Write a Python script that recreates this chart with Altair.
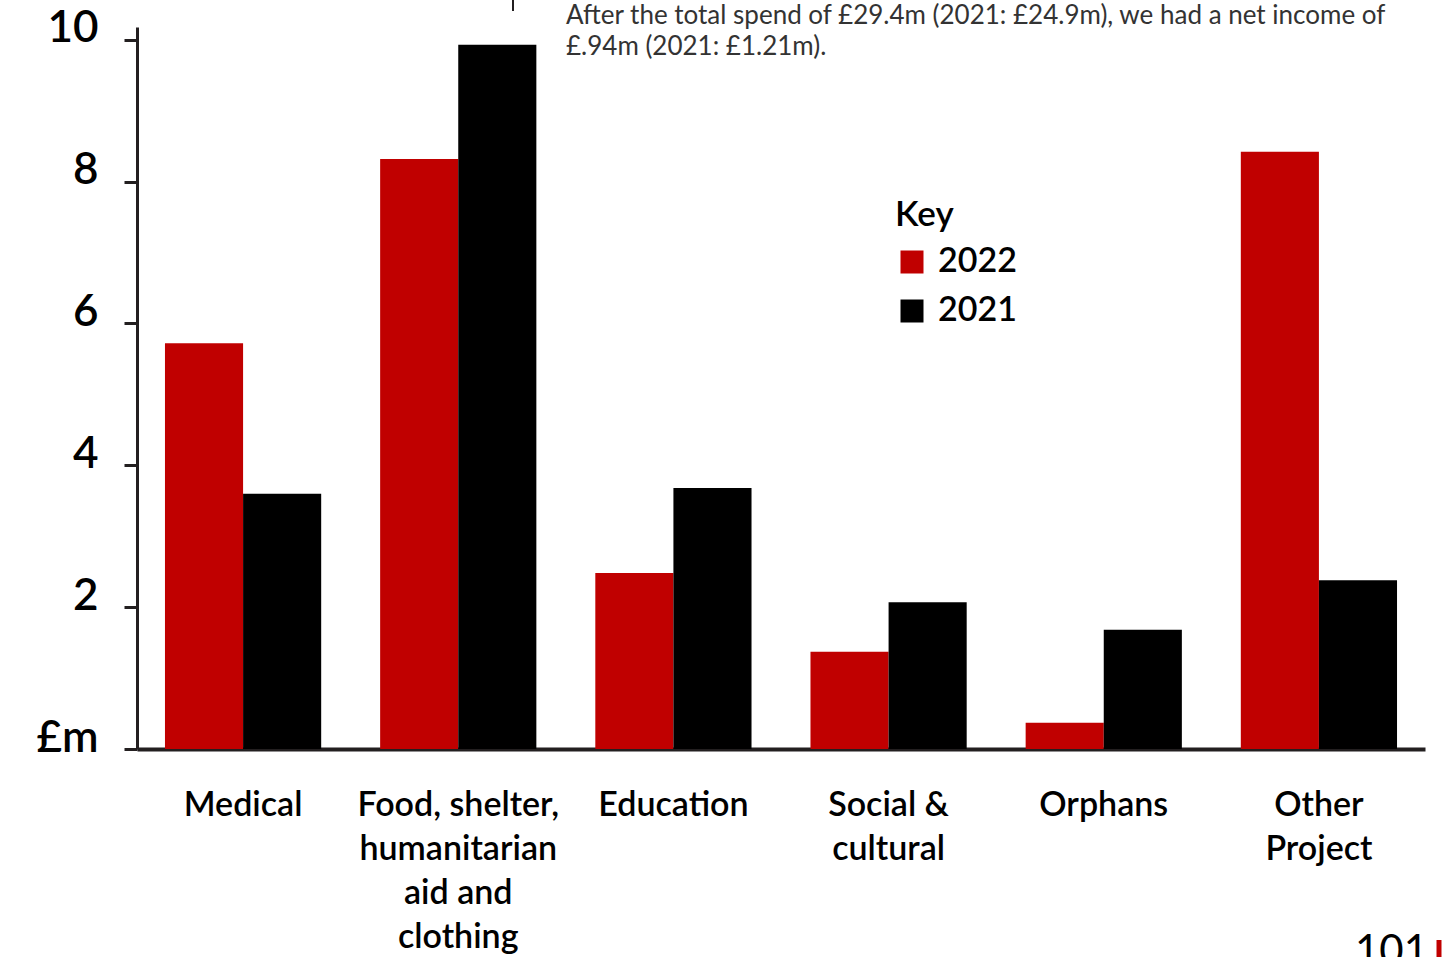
import altair as alt
import pandas as pd

categories = ["Medical", "Food, shelter, humanitarian aid and clothing", "Education",
              "Social & cultural", "Orphans", "Other Project"]
label_lines = ["Medical", "Food, shelter,|humanitarian|aid and|clothing", "Education",
               "Social &|cultural", "Orphans", "Other|Project"]
values_2022 = [5.72, 8.32, 2.48, 1.37, 0.37, 8.42]
values_2021 = [3.60, 9.93, 3.68, 2.07, 1.68, 2.38]
years = ["2022", "2021"]
y_ticks = [0, 2, 4, 6, 8, 10]
note_lines = ["After the total spend of £29.4m (2021: £24.9m), we had a net income of",
              "£.94m (2021: £1.21m)."]

rows = []
for c, a, b in zip(categories, values_2022, values_2021):
    rows.append({"category": c, "year": "2022", "value": a})
    rows.append({"category": c, "year": "2021", "value": b})
df = pd.DataFrame(rows)

mapping = "{" + ",".join(f"'{c}':'{l}'" for c, l in zip(categories, label_lines)) + "}"

FONT = "Lato"
AX = "#231f20"

bars = alt.Chart(df).mark_bar().encode(
    x=alt.X("category:N", sort=categories,
            scale=alt.Scale(paddingInner=0.274, paddingOuter=0.13),
            axis=alt.Axis(title=None, labelAngle=0, labelFontSize=34, labelFont=FONT,
                          labelFontWeight=600, labelColor="#000", labelPadding=56,
                          labelLineHeight=44, labelBaseline="middle",
                          labelExpr=f"split({mapping}[datum.label], '|')",
                          ticks=False, domainWidth=4, domainColor=AX, labelLimit=400)),
    xOffset=alt.XOffset("year:N", sort=years, scale=alt.Scale(paddingInner=0, paddingOuter=0)),
    y=alt.Y("value:Q", scale=alt.Scale(domain=[0, 10.18], nice=False, zero=True),
            axis=alt.Axis(title=None, values=y_ticks, grid=False, labelFontSize=44,
                          labelFont=FONT, labelFontWeight=600, labelColor="#000",
                          labelPadding=26, tickSize=13, tickWidth=3, tickColor=AX,
                          domainWidth=3, domainColor=AX, labelBaseline="middle",
                          labelOffset=-11,
                          labelExpr="datum.value == 0 ? '£m' : datum.label")),
    color=alt.Color("year:N", sort=years,
                    scale=alt.Scale(domain=years, range=["#c00000", "#000000"]),
                    legend=alt.Legend(title="Key", orient="none", legendX=758, legendY=171,
                                      padding=0,
                                      titleFontSize=35, titleFont=FONT, titleFontWeight=600,
                                      titleColor="#000", titlePadding=12,
                                      labelFontSize=34, labelFont=FONT, labelFontWeight=600,
                                      labelColor="#000", symbolType="square", symbolSize=529,
                                      symbolStrokeWidth=0, labelOffset=9, rowPadding=15,
                                      symbolOpacity=1)),
)

note_df = pd.DataFrame({"text": ["\n".join(note_lines)]})
note = alt.Chart(note_df).mark_text(align="left", baseline="middle", fontSize=26,
                                    font=FONT, color="#333333", lineBreak="\n",
                                    lineHeight=31).encode(
    x=alt.value(429),
    y=alt.value(-11),
    text="text:N",
)

tickmark = alt.Chart(pd.DataFrame({"a": [0]})).mark_rule(color=AX, strokeWidth=2).encode(
    x=alt.value(376), y=alt.value(-27), y2=alt.value(-16))

page = alt.Chart(pd.DataFrame({"t": ["101"]})).mark_text(
    align="left", baseline="alphabetic", fontSize=42, font=FONT, color="#000").encode(
    x=alt.value(1218), y=alt.value(938), text="t:N")

pagebar = alt.Chart(pd.DataFrame({"a": [0]})).mark_rule(color="#c00000", strokeWidth=5).encode(
    x=alt.value(1302), y=alt.value(913), y2=alt.value(935))

chart = alt.layer(bars, note, tickmark, page, pagebar).properties(
    width=1288, height=722,
    autosize=alt.AutoSizeParams(type="none"),
    padding={"left": 137, "top": 27, "right": 17, "bottom": 208},
    background="white",
).configure_view(stroke=None)

chart.save("out.html", embed_options={"renderer": "svg", "actions": False})
